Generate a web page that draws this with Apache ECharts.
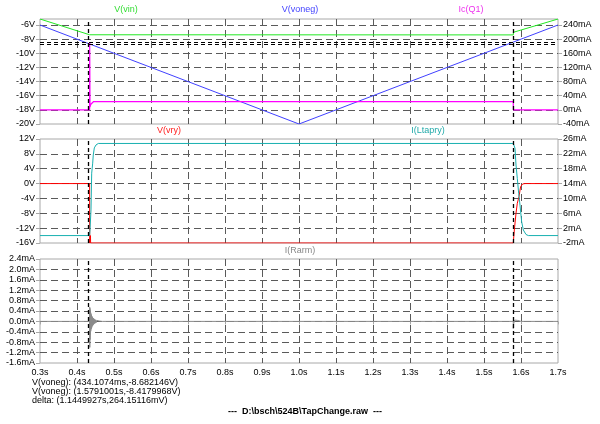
<!DOCTYPE html>
<html><head><meta charset="utf-8">
<script src="https://cdn.jsdelivr.net/npm/echarts@6/dist/echarts.min.js"></script>
<style>html,body{margin:0;padding:0;background:#fff}#c{width:600px;height:424px}</style>
</head><body><div id="c"></div>
<script>
// ---- data (time in s) ----
const cursorTimes = [0.4341074, 1.5791001];
const cursorValues = [-8.682146, -8.4179968];
const vin = [[0.3,-5.15],[0.4341,-7.38],[0.4345,-7.4],[1.5791,-7.4],[1.5795,-7.03],[1.7,-5.15]];
const voneg = [[0.3,-6.0],[1.0,-20.0],[1.7,-6.0]];
const icQ1 = [[0.3,0],[0.4341,0],[0.4343,190],[0.4352,8],[0.4375,16],[0.44,21],[0.445,23.5],[1.5791,23.5],[1.5793,0],[1.7,0]];
const vry = [[0.3,0],[0.4341,0],[0.4343,-16],[0.4362,-16],[0.4364,-14],[0.4368,-16],[1.5791,-16],[1.582,-12.5],[1.5865,-8],[1.59,-5.3],[1.5946,-3.5],[1.599,-0.8],[1.6045,-0.1],[1.611,0],[1.7,0]];
const iLtapry = [[0.3,0],[0.4341,0],[0.4351,1.5],[0.4378,6.9],[0.4397,16.8],[0.4424,19.5],[0.444,21.7],[0.4468,23.6],[0.4514,24.4],[0.4576,24.8],[1.5793,24.8],[1.5838,23.5],[1.5865,19.0],[1.59,15.4],[1.5937,11.4],[1.5973,8.2],[1.6018,3.7],[1.6063,1.5],[1.6135,0.3],[1.6198,0],[1.7,0]];
const iRarm = [[0.3,0],[0.4341,0],[0.4343,0.55],[0.4346,-1.0],[0.435,0.5],[0.4354,-0.7],[0.4358,0.42],[0.4362,-0.5],[0.4367,0.35],[0.4372,-0.38],[0.4378,0.3],[0.4384,-0.3],[0.439,0.25],[0.4397,-0.24],[0.4404,0.2],[0.4412,-0.19],[0.442,0.16],[0.4429,-0.15],[0.4438,0.13],[0.4447,-0.12],[0.4457,0.1],[0.4467,-0.09],[0.4478,0.08],[0.449,-0.07],[0.4502,0.06],[0.4515,-0.05],[0.453,0.04],[0.4545,-0.03],[0.4562,0.025],[0.458,-0.02],[0.46,0.015],[0.4625,-0.01],[0.465,0.01],[0.468,0],[1.5791,0],[1.5792,-0.28],[1.58,-0.1],[1.583,0.05],[1.59,0.04],[1.6,0],[1.7,0]];
const paneLabels = [
  {text:'V(vin)', x:126, y:10, color:'#33dd33'},
  {text:'V(voneg)', x:300, y:10, color:'#4444ff'},
  {text:'Ic(Q1)', x:471, y:10, color:'#ee33ee'},
  {text:'V(vry)', x:169, y:131, color:'#ff2222'},
  {text:'I(Ltapry)', x:428, y:131, color:'#22aaaa'},
  {text:'I(Rarm)', x:300, y:251, color:'#888888'}
];
const readouts = ['V(voneg): (434.1074ms,-8.682146V)','V(voneg): (1.5791001s,-8.4179968V)','delta: (1.1449927s,264.15116mV)'];
const footer = '---  D:\\bsch\\524B\\TapChange.raw  ---';

const FONT = '"Liberation Sans", Arial, sans-serif';
const GRIDC = '#5a5a5a', FRAMEC = '#a8a8a8';
const grids = [
  {left:40, right:42, top:19, height:105},
  {left:40, right:42, top:139, height:104},
  {left:40, right:42, top:259, height:104}
].map(g => Object.assign({show:true, borderColor:FRAMEC, borderWidth:1, backgroundColor:'transparent'}, g));

function xAx(i){
  return {type:'value', gridIndex:i, min:0.3, max:1.7, interval:0.1,
    axisLine:{show:false},
    axisTick:{show:i===2, length:3, lineStyle:{color:FRAMEC}},
    axisLabel:{show:i===2, margin:5, color:'#000', fontSize:9, fontFamily:FONT, formatter:v=>v.toFixed(1)+'s'},
    splitLine:{show:true, showMinLine:false, showMaxLine:false, lineStyle:{color:GRIDC, type:[7,4], width:1}}};
}
function yAx(i, pos, min, max, interval, fmt){
  return {type:'value', gridIndex:i, position:pos, min, max, interval,
    axisLine:{show:false},
    axisTick:{show:true, length:4, lineStyle:{color:FRAMEC}},
    axisLabel:{margin:5, color:'#000', fontSize:9, fontFamily:FONT, formatter:fmt, showMaxLabel: (Math.abs((max-min)/interval - Math.round((max-min)/interval))<1e-6)},
    splitLine:{show:pos==='left', showMinLine:false, showMaxLine:false, lineStyle:{color:GRIDC, type:[7,4], width:1}}};
}
const cursorStyle = {color:'#000', type:[4,3], width:1.3};
function vMarks(extra){
  const d = cursorTimes.map(t=>({xAxis:t}));
  return {silent:true, symbol:['none','none'], label:{show:false}, lineStyle:cursorStyle, animation:false,
    data: extra ? d.concat(cursorValues.map(v=>({yAxis:v, lineStyle:{color:'#000', type:[4,3], width:1}}))) : d};
}
function line(name, data, xi, yi, color, mark, w){
  const s = {name, type:'line', data, xAxisIndex:xi, yAxisIndex:yi, showSymbol:false, symbol:'none',
    lineStyle:{color, width:w||1}, itemStyle:{color}, animation:false, z:3};
  if (mark) s.markLine = mark;
  return s;
}

const chart = echarts.init(document.getElementById('c'), null, {renderer:'canvas'});
chart.setOption({
  backgroundColor:'#fff',
  animation:false,
  grid: grids,
  xAxis: [xAx(0), xAx(1), xAx(2)],
  yAxis: [
    yAx(0,'left',-20,-5.15,2,v=>v+'V'),
    yAx(0,'right',-40,257,40,v=>v+'mA'),
    yAx(1,'left',-16,12,4,v=>v+'V'),
    yAx(1,'right',-2,26,4,v=>v+'mA'),
    yAx(2,'left',-1.6,2.4,0.4,v=>v.toFixed(1)+'mA')
  ],
  series: [
    line('V(vin)', vin, 0, 0, '#22e822', vMarks(true)),
    line('V(voneg)', voneg, 0, 0, '#4040ff'),
    line('Ic(Q1)', icQ1, 0, 1, '#ff00ff', null, 1.2),
    line('V(vry)', vry, 1, 2, '#ff0000', vMarks(false)),
    line('I(Ltapry)', iLtapry, 1, 3, '#18b0b0'),
    line('I(Rarm)', iRarm, 2, 4, '#8a8a8a', vMarks(false))
  ],
  graphic: paneLabels.map(p=>({type:'text', x:p.x, y:p.y, silent:true,
      style:{text:p.text, fill:p.color, font:'9px '+FONT, align:'center', verticalAlign:'middle'}}))
    .concat(readouts.map((t,i)=>({type:'text', x:32, y:383+i*8.7, silent:true,
      style:{text:t, fill:'#000', font:'9px '+FONT, align:'left', verticalAlign:'middle'}})))
    .concat([{type:'text', x:305, y:412, silent:true,
      style:{text:footer, fill:'#000', font:'bold 9px '+FONT, align:'center', verticalAlign:'middle'}}])
});
</script></body></html>
